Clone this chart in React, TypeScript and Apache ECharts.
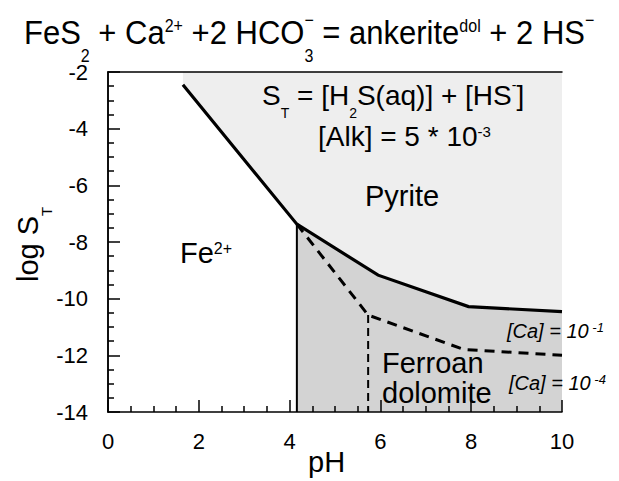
import React, { useEffect, useRef } from "react";
import * as echarts from "echarts";

// ---- data ----
const xRange = [0, 10];
const yRange = [-14, -2];
const xInterval = 2;
const yInterval = 2;

// pyrite / Fe2+ and pyrite / ferroan dolomite boundary (solid)
const pyriteBoundary: number[][] = [
  [1.65, -2.45],
  [4.16, -7.37],
  [5.95, -9.17],
  [7.94, -10.28],
  [10, -10.46],
];
// upper edge of ferroan dolomite field
const dolomiteTop: number[][] = [
  [4.16, -7.37],
  [5.95, -9.17],
  [7.94, -10.28],
  [10, -10.46],
];
// Fe2+ / dolomite boundary (solid vertical)
const feBoundary: number[][] = [
  [4.16, -7.37],
  [4.16, -14],
];
// alternative [Ca] boundary (dashed)
const caDashed: number[][] = [
  [4.16, -7.37],
  [5.73, -10.58],
  [7.83, -11.79],
  [10, -12.0],
];
const caDashedVertical: number[][] = [
  [5.73, -10.58],
  [5.73, -14],
];

// texts (markup: _{sub} ^{sup})
const titleText = "FeS_{2} + Ca^{2+} +2 HCO_{3}^{−} = ankerite^{dol} + 2 HS^{−}";
const stText = "S_{T} = [H_{2}S(aq)] + [HS^{-}]";
const alkText = "[Alk] = 5 * 10^{-3}";
const ca1Text = "[Ca] = 10^{ -1}";
const ca4Text = "[Ca] = 10^{ -4}";
const xName = "pH";
const yName = "log S_{T}";

const FONT = "'Liberation Sans', Arial, Helvetica, sans-serif";
const CENTRAL = 0.3465; // (ascent - descent) / 2 for Liberation Sans

let measureCtx: CanvasRenderingContext2D | null = null;
function fontStr(size: number, italic: boolean) {
  return `${italic ? "italic " : ""}${size}px ${FONT}`;
}
function measure(t: string, size: number, italic: boolean) {
  if (!measureCtx) measureCtx = document.createElement("canvas").getContext("2d");
  measureCtx!.font = fontStr(size, italic);
  return measureCtx!.measureText(t).width;
}

interface LabelOpts {
  x: number;
  baseline: number;
  F: number;
  s?: number;
  italic?: boolean;
  subDrop?: number; // gap between main baseline and top of subscript digits
  supRaise?: number; // sup digits top above cap top
  rotation?: number;
  scaleY?: number;
}

function richLabel(markup: string, o: LabelOpts) {
  const F = o.F;
  const s = o.s ?? Math.round(F * 0.55);
  const italic = !!o.italic;
  const subDrop = o.subDrop ?? 4;
  const supRaise = o.supRaise ?? 0;
  const cap = 0.716 * F;
  const re = /([_^])\{([^}]*)\}|([^_^]+)/g;
  const children: any[] = [];
  let cx = 0;
  let m: RegExpExecArray | null;
  let lastSubStart = -1;
  let lastSubWidth = 0;
  while ((m = re.exec(markup))) {
    if (m[3]) {
      const t = m[3];
      children.push({
        type: "text",
        z: 100,
        x: cx,
        y: -CENTRAL * F,
        style: { text: t, font: fontStr(F, italic), fill: "#000", align: "left", verticalAlign: "middle" },
      });
      cx += measure(t, F, italic);
      lastSubStart = -1;
    } else {
      const t = m[2];
      const w = measure(t, s, italic);
      let baseY: number;
      let px = cx;
      if (m[1] === "_") {
        baseY = subDrop + 0.716 * s;
        lastSubStart = cx;
        lastSubWidth = w;
        cx += w;
      } else {
        const isMinus = /^[−-]$/.test(t.trim());
        if (isMinus) baseY = -cap + 1.5 + 0.27 * s - supRaise;
        else baseY = -cap + 0.716 * s - supRaise;
        if (lastSubStart >= 0) {
          px = lastSubStart;
          cx = lastSubStart + Math.max(lastSubWidth, w);
        } else {
          cx += w;
        }
        lastSubStart = -1;
      }
      children.push({
        type: "text",
        z: 100,
        x: px,
        y: baseY - CENTRAL * s,
        style: { text: t, font: fontStr(s, italic), fill: "#000", align: "left", verticalAlign: "middle" },
      });
    }
  }
  const g: any = { type: "group", x: o.x, y: o.baseline, z: 100, children };
  if (o.rotation) g.rotation = o.rotation;
  if (o.scaleY) g.scaleY = o.scaleY;
  return g;
}

export default function App() {
  const ref = useRef<HTMLDivElement>(null);
  useEffect(() => {
    if (!ref.current) return;
    const chart = echarts.init(ref.current, undefined, { renderer: "svg" });
    const axisLine = { show: true, lineStyle: { color: "#000", width: 1.5 } };
    const lineSeries = (data: number[][], width: number, dashed?: number[]) => ({
      type: "line",
      data,
      showSymbol: false,
      symbol: "none",
      z: 5,
      lineStyle: {
        color: "#000",
        width,
        type: dashed ? dashed : "solid",
        cap: "butt",
        join: "miter",
      },
      silent: true,
    });
    chart.setOption({
      animation: false,
      grid: { left: 108, right: 57, top: 72, bottom: 69, containLabel: false },
      xAxis: [
        {
          type: "value",
          min: xRange[0],
          max: xRange[1],
          interval: xInterval,
          position: "bottom",
          z: 10,
          axisLine,
          axisTick: { show: true, inside: true, length: 12, lineStyle: { color: "#000", width: 1.5 } },
          minorTick: { show: true, splitNumber: 4, length: 6, lineStyle: { color: "#000", width: 1.5 } },
          splitLine: { show: false },
          minorSplitLine: { show: false },
          axisLabel: { color: "#000", fontSize: 22, margin: 18, fontFamily: FONT },
        },
        {
          type: "value",
          min: xRange[0],
          max: xRange[1],
          position: "top",
          z: 10,
          axisLine,
          axisTick: { show: false },
          axisLabel: { show: false },
          splitLine: { show: false },
        },
      ],
      yAxis: [
        {
          type: "value",
          min: yRange[0],
          max: yRange[1],
          interval: yInterval,
          position: "left",
          z: 10,
          axisLine,
          axisTick: { show: true, inside: true, length: 12, lineStyle: { color: "#000", width: 1.5 } },
          minorTick: { show: true, splitNumber: 4, length: 6, lineStyle: { color: "#000", width: 1.5 } },
          splitLine: { show: false },
          minorSplitLine: { show: false },
          axisLabel: { color: "#000", fontSize: 22, margin: 20, fontFamily: FONT },
        },
        {
          type: "value",
          min: yRange[0],
          max: yRange[1],
          position: "right",
          z: 10,
          axisLine,
          axisTick: { show: false },
          axisLabel: { show: false },
          splitLine: { show: false },
        },
      ],
      series: [
        {
          type: "line",
          data: pyriteBoundary,
          showSymbol: false,
          symbol: "none",
          z: 1,
          lineStyle: { width: 0 },
          areaStyle: { color: "#eeeeee", opacity: 1, origin: "end" },
          silent: true,
        },
        {
          type: "line",
          data: dolomiteTop,
          showSymbol: false,
          symbol: "none",
          z: 1,
          lineStyle: { width: 0 },
          areaStyle: { color: "#d3d3d3", opacity: 1, origin: "start" },
          silent: true,
        },
        lineSeries(pyriteBoundary, 3.2),
        lineSeries(feBoundary, 2),
        lineSeries(caDashed, 3, [10, 7]),
        lineSeries(caDashedVertical, 2, [8, 5]),
      ],
      graphic: [
        richLabel(titleText, { x: 24, baseline: 44, F: 31, s: 16, subDrop: 5, scaleY: 1.1 }),
        richLabel(stText, { x: 262, baseline: 105, F: 28, s: 14, subDrop: 3 }),
        richLabel(alkText, { x: 318, baseline: 146, F: 28, s: 15 }),
        richLabel("Pyrite", { x: 365, baseline: 206, F: 29 }),
        richLabel("Fe^{2+}", { x: 180, baseline: 263, F: 29, s: 16 }),
        richLabel("Ferroan", { x: 382, baseline: 373, F: 29 }),
        richLabel("dolomite", { x: 382, baseline: 403, F: 29 }),
        richLabel(ca1Text, { x: 507, baseline: 338, F: 20, s: 13, italic: true, supRaise: 1 }),
        richLabel(ca4Text, { x: 509, baseline: 390, F: 20, s: 13, italic: true, supRaise: 1 }),
        richLabel(xName, { x: 308, baseline: 472, F: 29 }),
        richLabel(yName, { x: 38, baseline: 282, F: 29, s: 15, subDrop: 3, rotation: Math.PI / 2 }),
      ],
    });
    return () => chart.dispose();
  }, []);
  return (
    <div
      ref={ref}
      style={{ position: "absolute", left: 0, top: 0, width: 619, height: 481, background: "#fff" }}
    />
  );
}
